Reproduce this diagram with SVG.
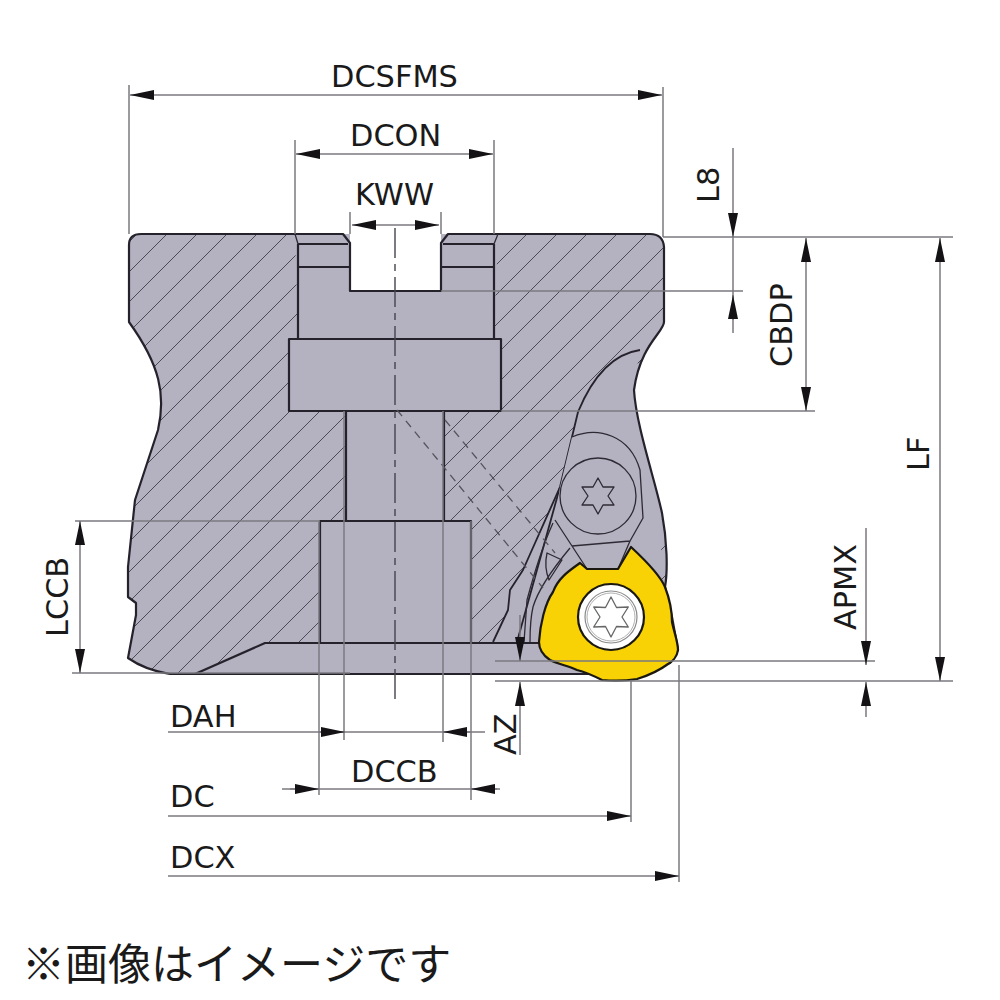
<svg xmlns="http://www.w3.org/2000/svg" width="1000" height="1000" viewBox="0 0 1000 1000">
<style>
.o{stroke:#26222c;stroke-width:2.2;fill:none;stroke-linejoin:round}
.f{fill:#b4b1c0}
.t{stroke:#2e2a34;stroke-width:1.3;fill:none;stroke-linejoin:round}
.m{stroke:#26222c;stroke-width:1.8;fill:none;stroke-linejoin:round}
.k{stroke:#55535c;stroke-width:1.3;fill:none;stroke-dasharray:8 6}
.d{stroke:#7b797f;stroke-width:1.5;fill:none}
.c{stroke:#45434c;stroke-width:1.4;fill:none;stroke-dasharray:30 6 7 6}
.a{marker-end:url(#ar)}
.b{marker-start:url(#ar)}
text{font-family:"DejaVu Sans",sans-serif;font-size:30.400px;fill:#1a1a1a}
</style>
<defs>
<pattern id="h" patternUnits="userSpaceOnUse" width="30" height="30" patternTransform="translate(11,0)">
<path d="M-1,1L1,-1M0,30L30,0M29,31L31,29" stroke="#4b4955" stroke-width="1"/>
</pattern>
<marker id="ar" markerUnits="userSpaceOnUse" markerWidth="26" markerHeight="12" refX="24" refY="6" orient="auto-start-reverse">
<path d="M0,1L24,6L0,11Z" fill="#141214"/>
</marker>
<path id="bd" d="M129,245Q129,234 141,234H343L350,243V291H441V243L448,234H650Q663,234 664,247V322C664,332 640,345 634,390C636,425 655,480 662,513C667,540 668,570 665,587L672,617L678,650L670,663L640,674H170Q145,670 128,658L136,615V603L128,597V567L135,500L158,430C166,395 160,365 129,322Z"/>
</defs>
<g id="body">
<use href="#bd" class="f"/>
<use href="#bd" fill="url(#h)"/>
<path id="pocket" class="f" d="M640,350C612,354 592,378 578,412L560,487L523,570L510,590L508,610L493,643H265L195,674H640L660,600L662,513C655,480 636,425 634,390C636,375 638,360 640,350Z"/>
<path class="f" d="M295,234H350V291H441V234H498L494,339H501V411H444V521H471V643H320V521H346V411H289V339H298Z"/>
<use href="#bd" class="o"/>
<path class="o" d="M298,244V339M494,244V339M298,244H348M443,244H494M298,267H350M441,267H494M289,339H501V411H289ZM346,411V521M444,411V521M320,643V521H471V643M195,674L265,643H540M180,674H600"/>
<path class="t" d="M295,234L298,244M498,234L494,244"/>
</g>
<g id="pocket-lines">
<path class="m" d="M640,350C612,354 592,378 578,412L560,487L523,570L510,590L508,610L493,642"/>
<path class="m" d="M560,487L517,642"/>
<path class="t" d="M553,523C543,545 535,570 527,600L524,642M570,548C550,572 538,590 533,607C530,620 530,630 530,642M547,553L562,560L549,580C545,570 545,562 547,553Z"/>
<path class="k" d="M397,410L543,588M445,420L555,553"/>
<path class="f" d="M572,437C600,425 630,435 640,470L643,518L630,541L618,569H587L572,546L555,520L560,487Z"/>
<path class="t" d="M572,437C598,426 630,435 640,470L643,518L630,541M555,520L572,546L630,541L618,569H587L572,546"/>
<circle class="t" cx="598" cy="496" r="38"/>
<polygon class="t" points="598,478 603,487 614,487 608,496 614,505 603,505 598,514 593,505 582,505 588,496 582,487 593,487"/>
</g>
<g id="insert">
<path d="M539,642C540,625 545,603 553,592C558,578 570,570 580,563L587,569H618L631,547C645,560 660,575 665,587C670,600 672,612 672,622C674,632 678,642 678,650C677,657 672,662 668,664C660,670 650,675 637,679C625,681 612,681 602,680C592,675 585,672 577,670C568,666 558,664 550,660C544,656 539,650 539,642Z" fill="#f8d205" stroke="#1a1810" stroke-width="2.200" stroke-linejoin="round"/>
<circle cx="611" cy="617" r="33" fill="#fff" stroke="#1a1810" stroke-width="2.200"/>
<circle cx="611" cy="617" r="26" fill="none" stroke="#8a8a8a" stroke-width="1.200"/>
<circle cx="611" cy="617" r="24" fill="none" stroke="#b0b0b0" stroke-width="1"/>
<polygon fill="#fff" stroke="#666" stroke-width="1.300" stroke-linejoin="round" points="611,597 616.500,607.500 628.300,607 622,617 628.300,627 616.500,626.500 611,637 605.500,626.500 593.700,627 600,617 593.700,607 605.500,607.500"/>
</g>
<g id="connectors">
<path class="c" d="M395,228V702"/>
<path class="d" d="M129,85V234M663,87V237M295,140V234M494,140V234M350,212V234M441,212V234"/>
<path class="d" d="M663,237H953M441,291H743M501,411H815M495,681H953M495,661H875M75,521H320M72,673H350"/>
<path class="d" d="M319,521V795M344,411V740M443,411V742M471,521V800M631,680V822M679,665V882"/>
<path class="d a b" d="M130,95H662"/>
<path class="d a b" d="M296,154H493"/>
<path class="d a b" d="M352,225H439"/>
<path class="d a" d="M733,148V237"/>
<path class="d" d="M733,237V333"/>
<path class="d a" d="M733,320V295"/>
<path class="d a b" d="M806,238V411"/>
<path class="d a b" d="M940,238V681"/>
<path class="d a" d="M866,528V665"/>
<path class="d a" d="M866,717V682"/>
<path class="d a" d="M520,615V661"/>
<path class="d a" d="M520,755V682"/>
<path class="d a b" d="M80,521V673"/>
<path class="d" d="M168,732H485"/>
<path class="d a" d="M319,732H345"/>
<path class="d a" d="M470,732H443"/>
<path class="d" d="M282,789H497"/>
<path class="d a" d="M290,789H319"/>
<path class="d a" d="M500,789H471"/>
<path class="d a" d="M168,816H631"/>
<path class="d a" d="M168,876H679"/>
</g>
<g id="labels">
<text x="331" y="87">DCSFMS</text>
<text x="350" y="146">DCON</text>
<text x="355" y="205">KWW</text>
<text transform="translate(719,203) rotate(-90)">L8</text>
<text transform="translate(792,367) rotate(-90)">CBDP</text>
<text transform="translate(929,471) rotate(-90)">LF</text>
<text transform="translate(856,630) rotate(-90)">APMX</text>
<text transform="translate(68,637) rotate(-90)">LCCB</text>
<text transform="translate(516,755) rotate(-90)">AZ</text>
<text x="170" y="727">DAH</text>
<text x="351" y="782">DCCB</text>
<text x="170" y="807">DC</text>
<text x="170" y="868">DCX</text>
<text x="22" y="980" style="font-family:'Noto Sans CJK JP',sans-serif;font-size:43px">※画像はイメージです</text>
</g>
</svg>
